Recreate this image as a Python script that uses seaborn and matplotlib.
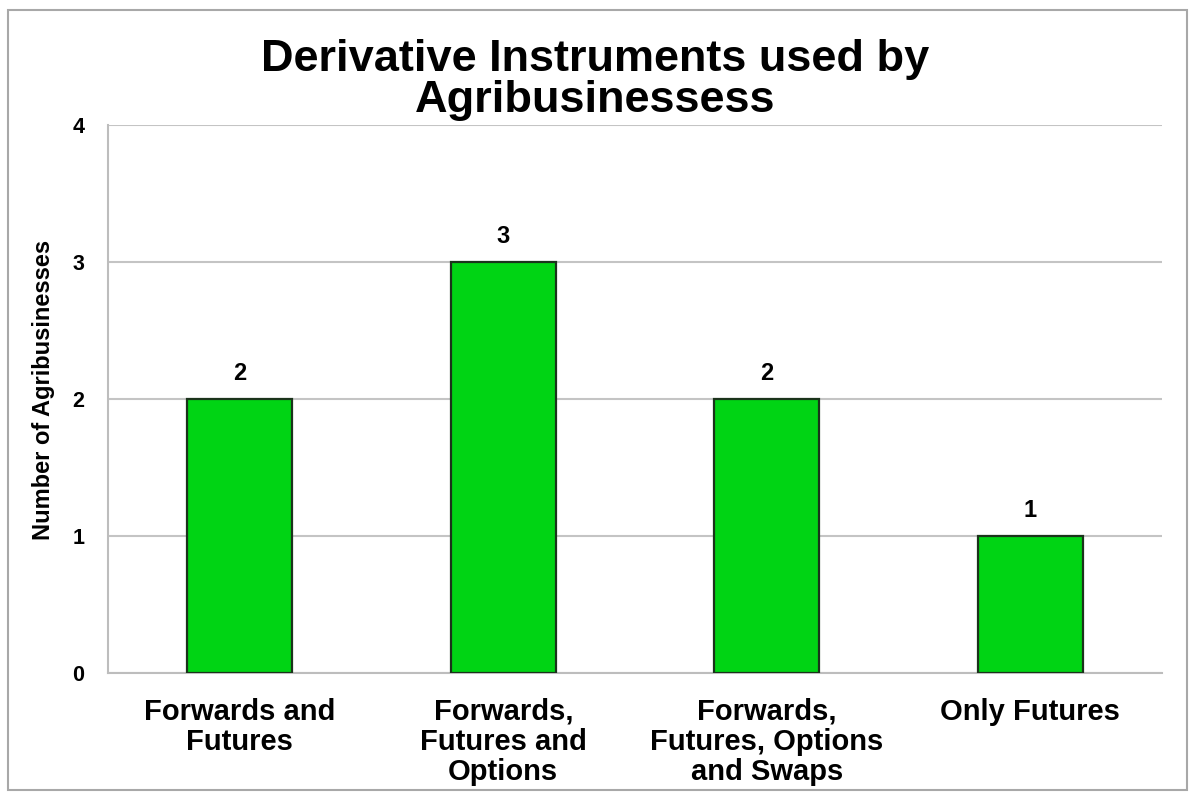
import matplotlib
matplotlib.use("Agg")
import matplotlib.pyplot as plt
from matplotlib.patches import Rectangle
import seaborn as sns
import pandas as pd

categories = [
    "Forwards and\nFutures",
    "Forwards,\nFutures and\nOptions",
    "Forwards,\nFutures, Options\nand Swaps",
    "Only Futures",
]
counts = [2, 3, 2, 1]
y_ticks = [0, 1, 2, 3, 4]

title = "Derivative Instruments used by\nAgribusinessess"
y_label = "Number of Agribusinesses"

sns.set_theme(style="white")
plt.rcParams["font.family"] = ["Liberation Sans", "DejaVu Sans"]
plt.rcParams["text.color"] = "black"
plt.rcParams["axes.labelcolor"] = "black"
plt.rcParams["xtick.color"] = "black"
plt.rcParams["ytick.color"] = "black"

df = pd.DataFrame({"category": categories, "count": counts})

fig = plt.figure(figsize=(11.91, 7.92), dpi=100)
ax = fig.add_axes([0.0907, 0.1503, 0.885, 0.6919])

sns.barplot(data=df, x="category", y="count", color="#00d414",
            saturation=1, width=0.4, edgecolor="#1b331b", linewidth=1.6,
            ax=ax, zorder=3)

ax.set_ylim(0, 4)
ax.set_yticks(y_ticks)
ax.set_yticklabels([str(t) for t in y_ticks], fontsize=15.5, fontweight="bold")
ax.set_xlim(-0.5, len(categories) - 0.5)
ax.set_xlabel("")
ax.set_ylabel(y_label, fontsize=17, fontweight="bold")
ax.yaxis.set_label_coords(-0.050, 0.516)
ax.tick_params(axis="y", length=0, pad=17)
ax.tick_params(axis="x", length=0, pad=18)
for lbl in ax.get_xticklabels():
    lbl.set_fontsize(21)
    lbl.set_fontweight("bold")
    lbl.set_linespacing(1.1)
    lbl.set_verticalalignment("top")

ax.yaxis.grid(True, color="#c4c4c4", linewidth=1.5, zorder=0)
ax.set_axisbelow(True)
for side in ["top", "right"]:
    ax.spines[side].set_visible(False)
for side in ["left", "bottom"]:
    ax.spines[side].set_color("#bdbdbd")
    ax.spines[side].set_linewidth(1.5)

for container in ax.containers:
    ax.bar_label(container, labels=[str(v) for v in counts], padding=10,
                 fontsize=17, fontweight="bold")

fig.text(0.5, 1 - 80 / 792, title, ha="center", va="center", fontsize=32.5,
         fontweight="bold", linespacing=1.02)

fig.add_artist(Rectangle((8 / 1191, 2 / 792), 1179 / 1191, 780 / 792,
                         transform=fig.transFigure, fill=False,
                         edgecolor="#a8a8a8", linewidth=1.5))

fig.savefig("out.png", dpi=100)
